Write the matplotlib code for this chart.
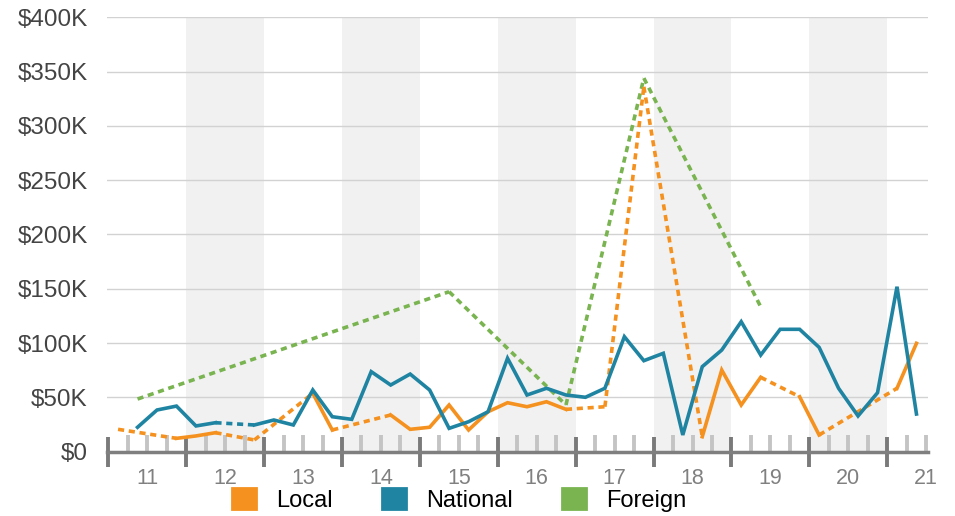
import matplotlib.pyplot as plt
import numpy as np
from matplotlib.patches import Patch
from matplotlib.ticker import FixedLocator, FuncFormatter

plt.rcParams['font.family'] = ['Liberation Sans', 'DejaVu Sans']

nan = np.nan

# quarterly values in $K, first entry = 2011 Q1 (nan = no data that quarter)
local = [20.6, nan, nan, 12.3, 14.5, 17.5, nan, 10.8, nan, nan,
         53.8, 20.0, nan, nan, 33.8, 20.6, 22.5, 43.0, 20.0, 36.8,
         45.1, 41.4, 46.0, 39.0, nan, 41.4, nan, 336.0, nan, nan,
         13.8, 75.2, 43.0, 68.5, nan, 50.6, 15.4, nan, nan, nan,
         58.4, 99.8]
national = [nan, 22.5, 38.4, 42.0, 23.7, 26.7, nan, 24.6, 29.2, 24.6,
            56.8, 32.2, 29.8, 73.7, 61.4, 71.5, 56.8, 21.5, 27.6, 36.8,
            86.0, 52.2, 58.4, 52.2, 50.1, 58.4, 105.9, 83.8, 90.6, 15.4,
            78.3, 93.6, 119.7, 89.0, 112.7, 112.7, 96.1, 58.4, 32.9, 54.3,
            151.9, 34.7]
foreign = [nan, 48.5, nan, nan, nan, nan, nan, nan, nan, nan,
           nan, nan, nan, nan, nan, nan, nan, 147.3, nan, nan,
           nan, nan, nan, 43.0, nan, nan, nan, 344.0, nan, nan,
           nan, nan, nan, 133.5, nan, nan, nan, nan, nan, nan,
           nan, nan]

series_names = ['Local', 'National', 'Foreign']
colors = ['#f5911e', '#1f84a2', '#79b451']
years = list(range(2011, 2022))
shaded_years = [2012, 2014, 2016, 2018, 2020]

start_year = 2011
x = start_year + (np.arange(len(local)) + 0.5) * 0.25


def draw_series(ax, values, color, z):
    y = np.array(values, dtype=float) * 1000
    ax.plot(x, y, color=color, lw=2.6, solid_joinstyle='miter', zorder=z)
    # dotted bridges across quarters without data
    idx = np.flatnonzero(~np.isnan(y))
    for a, b in zip(idx[:-1], idx[1:]):
        if b - a > 1:
            ax.plot(x[[a, b]], y[[a, b]], color=color, lw=2.6,
                    ls=(0, (1.7, 1.3)), zorder=z)


fig = plt.figure(figsize=(9.55, 5.16), dpi=100)
ax = fig.add_axes([107 / 955, 1 - 451.7 / 516, 821 / 955, (451.7 - 17.3) / 516])

for yr in shaded_years:
    ax.axvspan(yr, yr + 1, color='#f1f1f1', lw=0, zorder=0)

draw_series(ax, foreign, colors[2], 3)
draw_series(ax, local, colors[0], 4)
draw_series(ax, national, colors[1], 5)

ax.set_xlim(2010.983, 2021.523)
ax.set_ylim(0, 400000)

ax.set_yticks(np.arange(0, 400001, 50000))
ax.yaxis.set_major_formatter(FuncFormatter(
    lambda v, p: '$0' if v == 0 else '${:.0f}K'.format(v / 1000)))
ax.tick_params(axis='y', length=0, pad=14, labelsize=17.5, labelcolor='#444444')
ax.yaxis.grid(True, color='#d2d2d2', lw=1)
ax.set_axisbelow(True)

ax.set_xticks(years)
ax.xaxis.set_major_formatter(FuncFormatter(lambda v, p: ''))
minor = [yr + q for yr in years for q in (0.25, 0.5, 0.75) if yr + q < 2021.52]
ax.xaxis.set_minor_locator(FixedLocator(minor))
ax.xaxis.set_minor_formatter(FuncFormatter(
    lambda v, p: '{:02d}'.format(int(v) % 100) if abs(v % 1 - 0.5) < 0.01 else ''))
ax.tick_params(axis='x', which='major', direction='inout', length=21, width=2.8,
               color='#7a7a7a')
ax.tick_params(axis='x', which='minor', direction='in', length=12, width=2.8,
               color='#c4c4c4', pad=12, labelsize=15.5, labelcolor='#808080')

for s in ['top', 'left', 'right']:
    ax.spines[s].set_visible(False)
ax.spines['bottom'].set_color('#7f7f7f')
ax.spines['bottom'].set_linewidth(2.5)

handles = [Patch(facecolor=c, edgecolor=c, linewidth=2, joinstyle='round') for c in colors]
fig.legend(handles, series_names, loc='center', bbox_to_anchor=(0.481, 0.031),
           ncol=3, frameon=False, fontsize=17, handlelength=1.0, handleheight=1.0,
           handletextpad=0.85, columnspacing=2.1)

plt.savefig('out.png', dpi=100)
